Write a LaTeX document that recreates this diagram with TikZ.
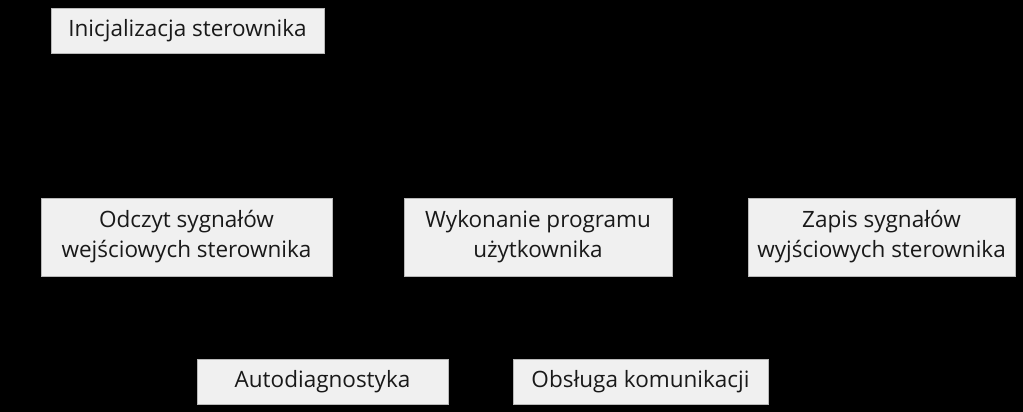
\documentclass[tikz,border=0pt]{standalone}
\usepackage{fontspec}
\setmainfont{Open Sans}
\begin{document}
\begin{tikzpicture}[x=1pt,y=1pt,
  box/.style={draw=gray!55, line width=0.9pt, fill=black!6, inner sep=0pt,
    align=center, font=\fontsize{22.5}{30}\selectfont, text=black!90}]
\fill[black] (0,0) rectangle (1023,412);
\useasboundingbox (0,0) rectangle (1023,412);
\node[box, minimum width=273, minimum height=45] (init) at (187.5,381.5) {Inicjalizacja sterownika};
\node[box, minimum width=291, minimum height=78] (odczyt) at (186.5,175) {Odczyt sygnałów\\wejściowych sterownika};
\node[box, minimum width=268, minimum height=78] (wyk) at (538,175) {Wykonanie programu\\użytkownika};
\node[box, minimum width=267, minimum height=78] (zapis) at (881.5,175) {Zapis sygnałów\\wyjściowych sterownika};
\node[box, minimum width=251, minimum height=45] (auto) at (322.5,30.5) {Autodiagnostyka};
\node[box, minimum width=255, minimum height=45] (obs) at (640.5,30.5) {Obsługa komunikacji};
\end{tikzpicture}
\end{document}
